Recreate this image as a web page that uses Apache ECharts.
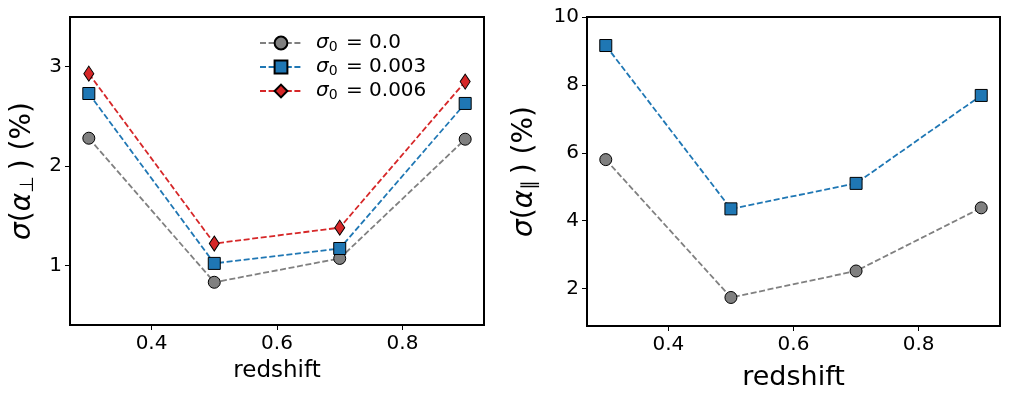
<!doctype html>
<html lang="en">
<head>
    <meta charset="utf-8">
    <title>Alpha errors vs redshift</title>
    <script src="https://cdn.jsdelivr.net/npm/echarts@6/dist/echarts.min.js"></script>
    <style>
        body { margin: 0; background: #fff; }
        #main { width: 1010px; height: 399px; }
    </style>
</head>
<body>
    <div id="main"></div>
    <script type="text/javascript">
        // redshift bins
        var redshifts = [0.3, 0.5, 0.7, 0.9];

        // sigma(alpha_perp) in %, one list per sigma_0
        var perpSigma0 = [2.28, 0.83, 1.07, 2.27];
        var perpSigma3 = [2.73, 1.02, 1.17, 2.63];
        var perpSigma6 = [2.93, 1.22, 1.38, 2.85];

        // sigma(alpha_par) in %
        var parSigma0 = [5.80, 1.74, 2.52, 4.38];
        var parSigma3 = [9.16, 4.35, 5.10, 7.69];

        var seriesNames = ['σ0 = 0.0', 'σ0 = 0.003', 'σ0 = 0.006'];
        var legendValues = ['0.0', '0.003', '0.006'];

        var xTicks = [0.4, 0.6, 0.8];
        var perpTicks = [1, 2, 3];
        var parTicks = [2, 4, 6, 8, 10];

        var FONT = 'DejaVu Sans';
        var dash = [6, 2.6];

        function pairs(ys) {
            return ys.map(function (y, i) { return [redshifts[i], y]; });
        }

        function xAxisFor(idx, nameSize, gap) {
            return {
                type: 'value', gridIndex: idx, min: 0.27, max: 0.93,
                name: 'redshift', nameLocation: 'middle', nameGap: gap,
                nameTextStyle: { fontFamily: FONT, fontSize: nameSize, color: '#000' },
                axisLine: { show: true, onZero: false, lineStyle: { color: '#000', width: 2 } },
                axisTick: { show: true, length: 5, lineStyle: { color: '#000', width: 1 }, customValues: xTicks },
                axisLabel: { fontFamily: FONT, fontSize: 20, color: '#000', margin: 9, customValues: xTicks,
                    formatter: function (v) { return v.toFixed(1); } },
                splitLine: { show: false }
            };
        }

        var richName = {
            i: { fontFamily: FONT, fontSize: 28, fontStyle: 'italic', color: '#000' },
            s: { fontFamily: FONT, fontSize: 19, color: '#000', padding: [12, 6, 0, 0] }
        };

        function yAxisFor(idx, min, max, ticks, label, gap) {
            return {
                type: 'value', gridIndex: idx, min: min, max: max,
                name: label, nameLocation: 'middle', nameGap: gap, nameRotate: 90,
                nameTextStyle: { fontFamily: FONT, fontSize: 28, color: '#000', rich: richName },
                axisLine: { show: true, onZero: false, lineStyle: { color: '#000', width: 2 } },
                axisTick: { show: true, length: 5, lineStyle: { color: '#000', width: 1 }, customValues: ticks },
                axisLabel: { fontFamily: FONT, fontSize: 20, color: '#000', margin: 8, customValues: ticks },
                splitLine: { show: false }
            };
        }

        function lineSeries(name, ys, color, symbol, size, axis) {
            return {
                name: name, type: 'line', xAxisIndex: axis, yAxisIndex: axis,
                data: pairs(ys),
                symbol: symbol, symbolSize: size,
                lineStyle: { color: color, width: 1.8, type: dash },
                itemStyle: { color: color, borderColor: '#000', borderWidth: 1 },
                emphasis: { disabled: true }
            };
        }

        var chart = echarts.init(document.getElementById('main'), null, { renderer: 'canvas' });

        chart.setOption({
            animation: false,
            backgroundColor: '#fff',
            grid: [
                { left: 70, top: 17, width: 414, height: 308, show: true, borderColor: '#000', borderWidth: 2 },
                { left: 587, top: 17, width: 413, height: 309, show: true, borderColor: '#000', borderWidth: 2 }
            ],
            legend: {
                data: seriesNames,
                left: 254, top: 28, orient: 'vertical',
                itemWidth: 42, itemHeight: 16, itemGap: 3,
                formatter: function (name) {
                    return '{i|σ}{s|0} = ' + legendValues[seriesNames.indexOf(name)];
                },
                textStyle: {
                    fontFamily: FONT, fontSize: 20, color: '#000', padding: [0, 0, 0, 9], lineHeight: 16,
                    rich: {
                        i: { fontFamily: FONT, fontSize: 20, fontStyle: 'italic', color: '#000' },
                        s: { fontFamily: FONT, fontSize: 14, color: '#000', padding: [8, 2, 0, 0] }
                    }
                }
            },
            xAxis: [xAxisFor(0, 23, 35), xAxisFor(1, 27, 38)],
            yAxis: [
                yAxisFor(0, 0.4, 3.5, perpTicks, '{i|σ}({i|α}{s|⊥}) (%)', 32),
                yAxisFor(1, 0.9, 10, parTicks, '{i|σ}({i|α}{s|∥}) (%)', 47)
            ],
            series: [
                lineSeries(seriesNames[0], perpSigma0, '#808080', 'circle', 12, 0),
                lineSeries(seriesNames[1], perpSigma3, '#1f77b4', 'rect', 12, 0),
                lineSeries(seriesNames[2], perpSigma6, '#d62728', 'diamond', [10, 15], 0),
                lineSeries(seriesNames[0], parSigma0, '#808080', 'circle', 12, 1),
                lineSeries(seriesNames[1], parSigma3, '#1f77b4', 'rect', 12, 1)
            ]
        });
    </script>
</body>
</html>
